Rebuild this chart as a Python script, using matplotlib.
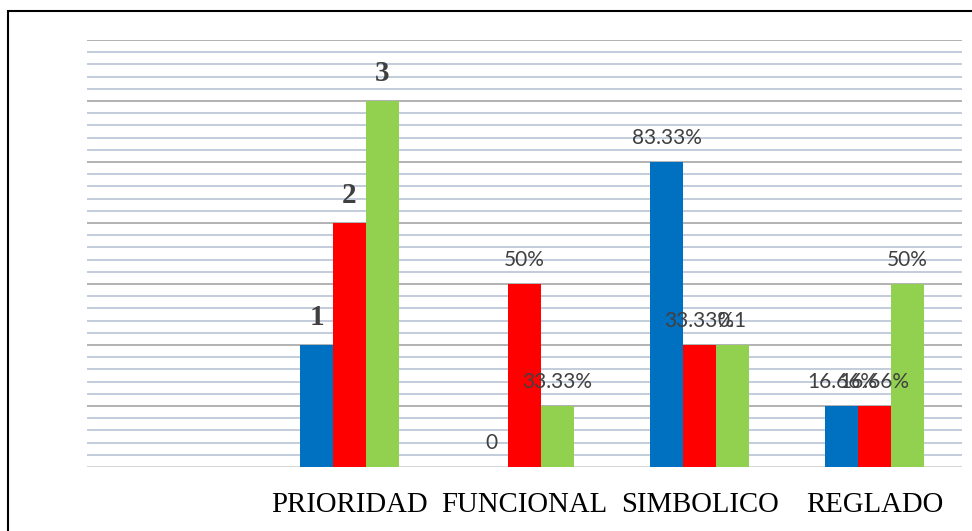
import matplotlib
matplotlib.use("Agg")
import matplotlib.pyplot as plt
from matplotlib.patches import Rectangle
import numpy as np

# datos (alturas en %), primera categoria vacia
categorias = ["", "PRIORIDAD", "FUNCIONAL", "SIMBOLICO", "REGLADO"]
serie_azul = [None, 33.33, 0, 83.33, 16.66]
serie_roja = [None, 66.67, 50, 33.33, 16.66]
serie_verde = [None, 100, 16.67, 33.33, 50]
etiq_azul = ["", "1", "0", "83.33%", "16.66%"]
etiq_roja = ["", "2", "50%", "33.33%", "16.66%"]
etiq_verde = ["", "3", "33.33%", "0.1", "50%"]

colores = ["#0070C0", "#FF0000", "#92D050"]

fig = plt.figure(figsize=(9.72, 5.31), dpi=100)
ax = fig.add_axes([87 / 972, 1 - 467 / 531, 875 / 972, 427 / 531])

x = np.arange(len(categorias))
ancho = 0.187
series = [serie_azul, serie_roja, serie_verde]
etiquetas = [etiq_azul, etiq_roja, etiq_verde]

for i, (vals, etqs, col) in enumerate(zip(series, etiquetas, colores)):
    pos = x + (i - 1) * ancho
    alturas = [0 if v is None else v for v in vals]
    ax.bar(pos, alturas, width=ancho, color=col, zorder=3)
    for p, v, t in zip(pos, vals, etqs):
        if v is None:
            continue
        if t in ("1", "2", "3"):
            ax.annotate(t, (p, v), xytext=(0, 20), textcoords="offset points",
                        ha="center", va="center", fontsize=21, fontweight="bold",
                        family="Liberation Serif", color="#404040", zorder=5)
        else:
            ax.annotate(t, (p, v), xytext=(0, 17.3), textcoords="offset points",
                        ha="center", va="center", fontsize=15,
                        family="Lato", color="#404040", zorder=5)

ax.set_xlim(-0.5, len(categorias) - 0.5)
ax.set_ylim(0, 116.67)

# lineas de cuadricula
for k in range(1, 36):
    yv = k * 116.67 / 35
    if k % 5 == 0:
        ax.axhline(yv, color="#a6a6a6", lw=1.2, zorder=1)
    else:
        ax.axhline(yv, color="#b8c4d6", lw=1.2, zorder=1)
ax.axhline(0, color="#d9d9d9", lw=1.5, zorder=2)

ax.set_yticks([])
ax.set_xticks(x)
ax.set_xticklabels(categorias, family="Liberation Serif", fontsize=20.7, color="black")
ax.tick_params(axis="x", length=0, pad=18)
for s in ax.spines.values():
    s.set_visible(False)

# marco exterior
fig.patches.append(Rectangle((8 / 972, -0.1), 1.1, 1 - 11 / 531 + 0.1,
                             transform=fig.transFigure, fill=False,
                             edgecolor="black", lw=1.5))

fig.savefig("out.png", dpi=100)
